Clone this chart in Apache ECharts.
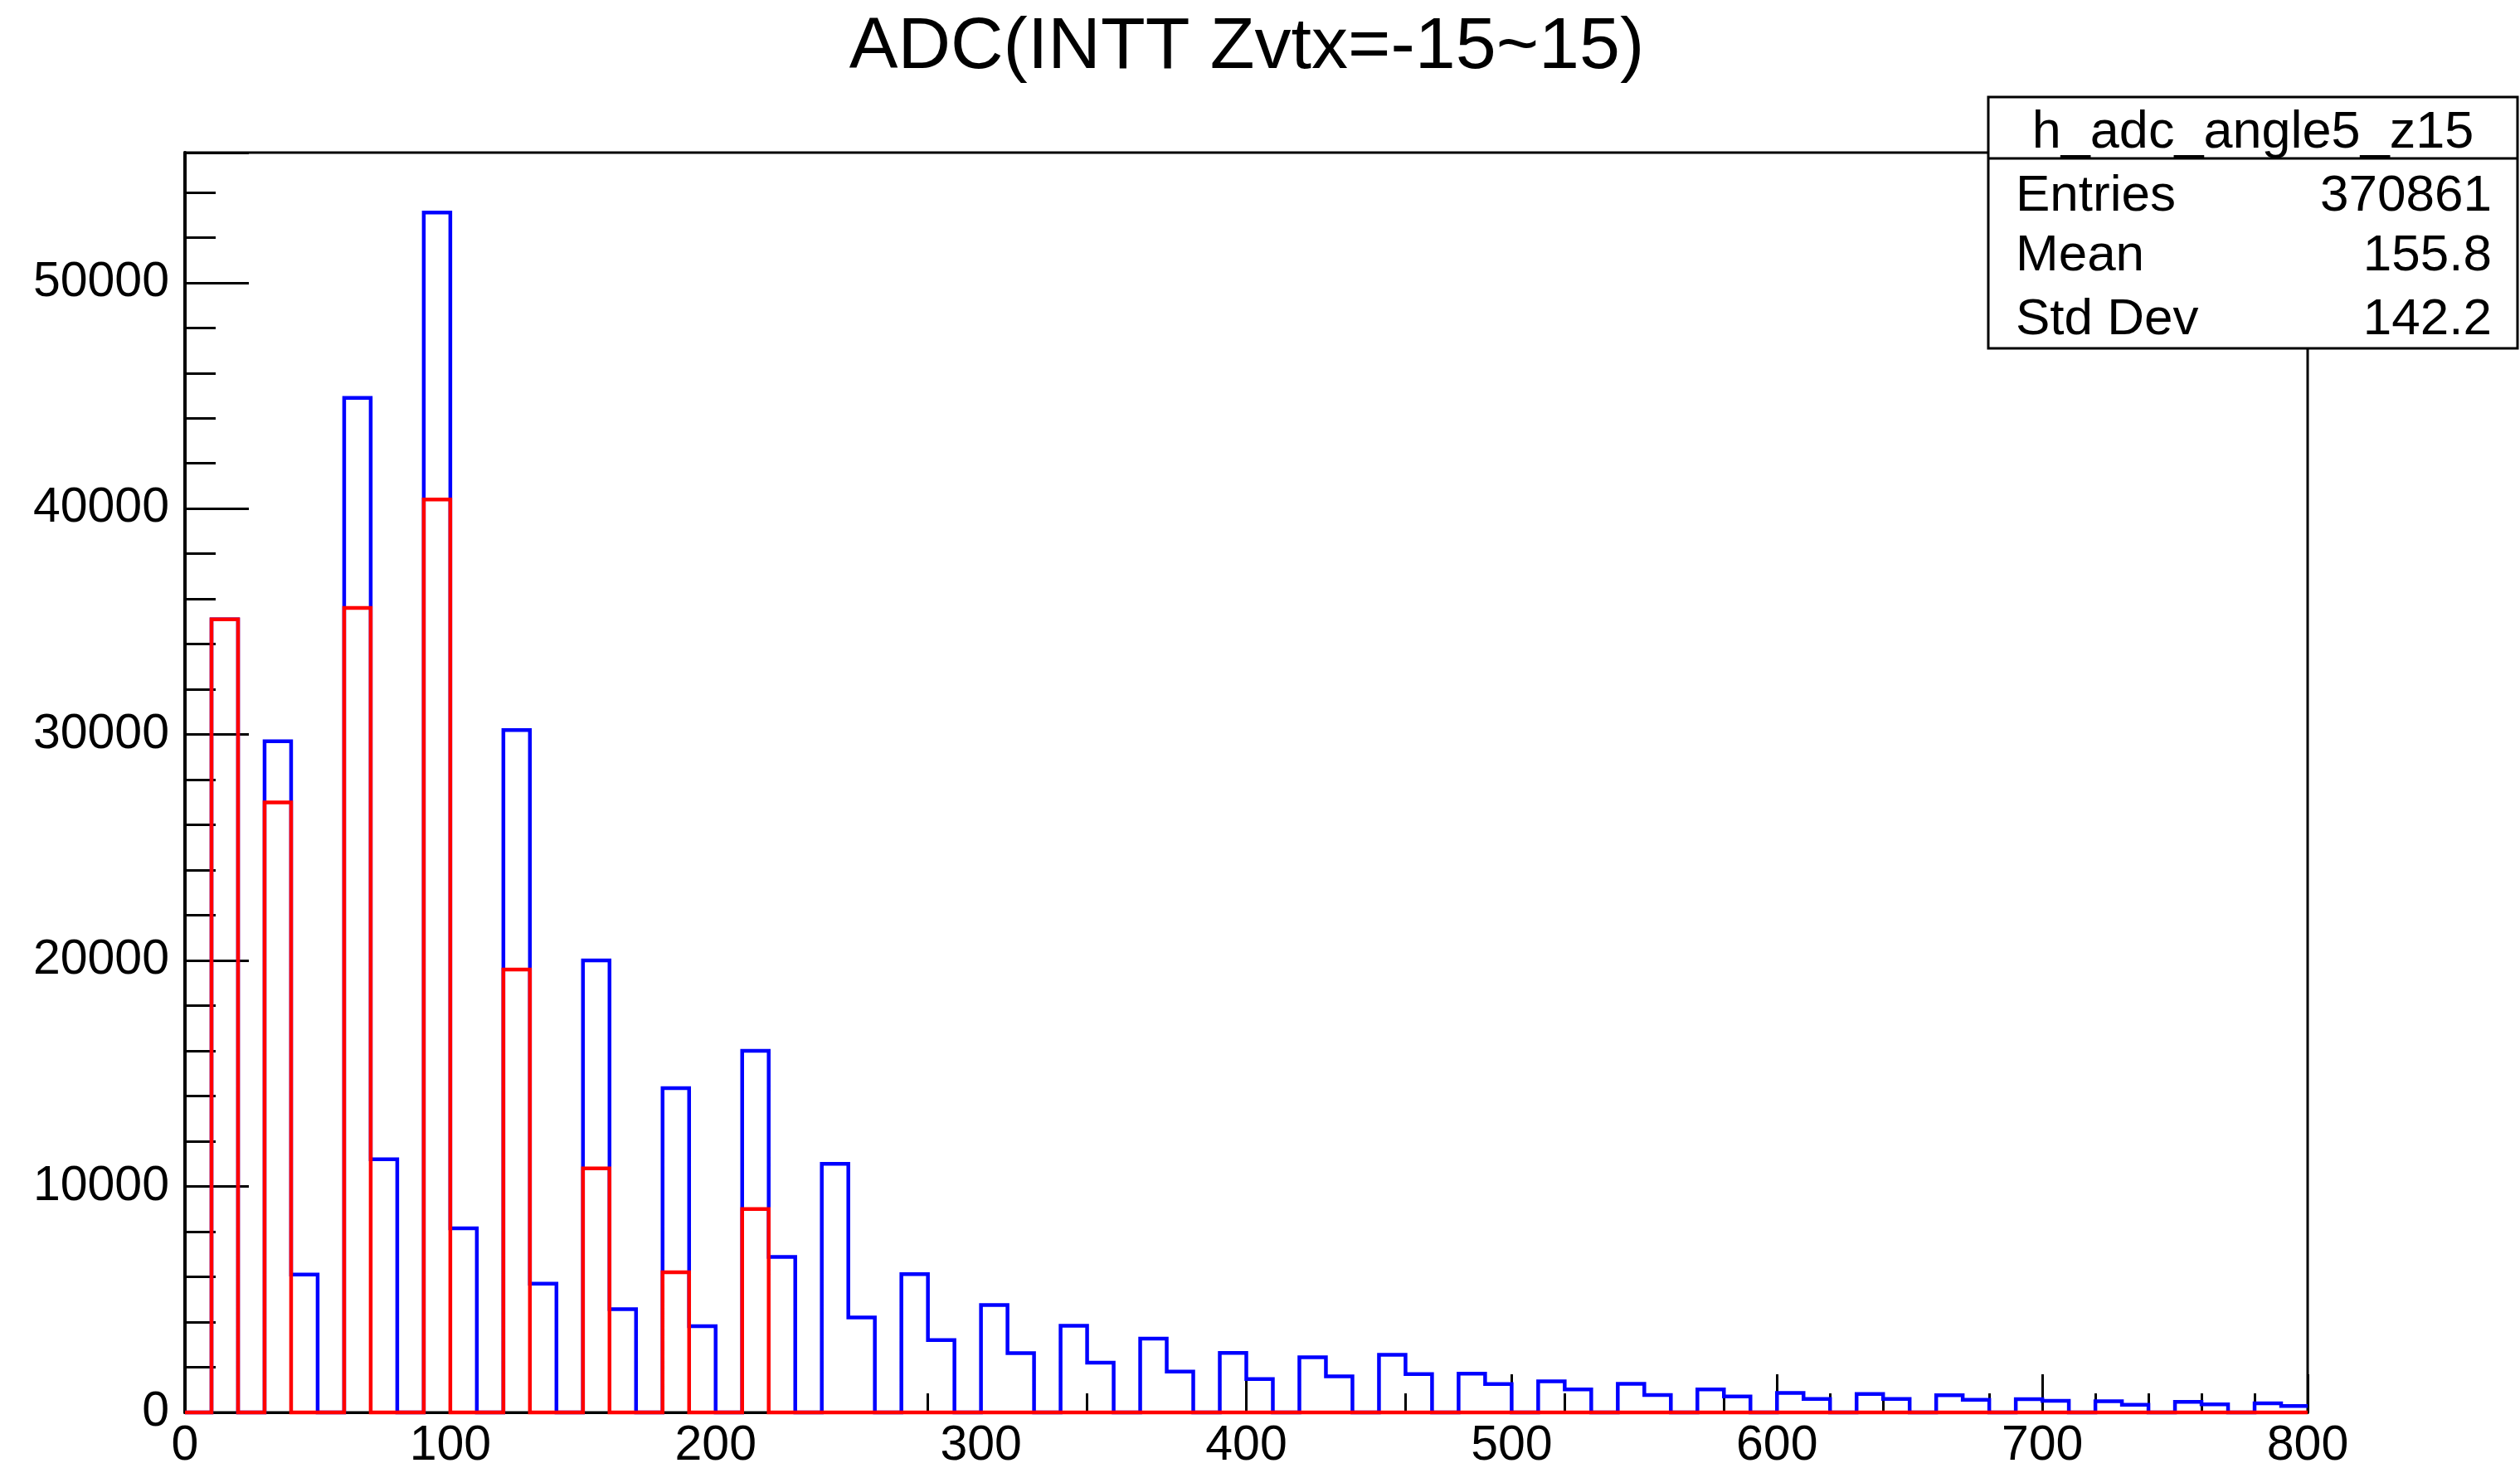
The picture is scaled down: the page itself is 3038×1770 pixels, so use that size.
<!DOCTYPE html>
<html><head><meta charset="utf-8">
<script src="https://cdn.jsdelivr.net/npm/echarts@6/dist/echarts.min.js"></script>
<style>html,body{margin:0;padding:0;background:#fff}#c{width:3038px;height:1770px}</style>
</head><body><div id="c"></div>
<script>
// ---- data ----
const chartTitle = 'ADC(INTT Zvtx=-15~15)';
const histName = 'h_adc_angle5_z15';
const statLabels = ['Entries', 'Mean', 'Std Dev'];
const statValues = ['370861', '155.8', '142.2'];
const X_MIN = 0, X_MAX = 800, BIN_WIDTH = 10;
// bin contents, one per 10-wide bin from 0 to 800
const blueCounts = [
  0, 35100, 0, 29700, 6100, 0, 44900, 11200, 0, 53100,
  8150, 0, 30200, 5700, 0, 20000, 4570, 0, 14350, 3820,
  0, 16000, 6880, 0, 11000, 4200, 0, 6120, 3200, 0,
  4750, 2620, 0, 3840, 2200, 0, 3270, 1810, 0, 2630,
  1480, 0, 2440, 1600, 0, 2550, 1700, 0, 1715, 1260,
  0, 1380, 1020, 0, 1270, 770, 0, 1020, 710, 0,
  860, 600, 0, 820, 600, 0, 760, 560, 0, 590,
  510, 0, 500, 340, 0, 470, 355, 0, 400, 280
];
const redCounts = [
  0, 35100, 0, 27000, 0, 0, 35600, 0, 0, 40400,
  0, 0, 19600, 0, 0, 10800, 0, 0, 6200, 0,
  0, 9000, 0, 0, 0, 0, 0, 0, 0, 0,
  0, 0, 0, 0, 0, 0, 0, 0, 0, 0,
  0, 0, 0, 0, 0, 0, 0, 0, 0, 0,
  0, 0, 0, 0, 0, 0, 0, 0, 0, 0,
  0, 0, 0, 0, 0, 0, 0, 0, 0, 0,
  0, 0, 0, 0, 0, 0, 0, 0, 0, 0
];

const FONT = '"Liberation Sans", Arial, Helvetica, sans-serif';
function stepData(counts) {
  const d = counts.map((v, i) => [X_MIN + i * BIN_WIDTH, v]);
  d.push([X_MAX, counts[counts.length - 1]]);
  return d;
}
const yMax = Math.max(...blueCounts) * 1.05;

const chart = echarts.init(document.getElementById('c'), null, {renderer: 'canvas'});
const tickStyle = {color: '#000', width: 3};
const rowY = [237, 309, 386];
const option = {
  animation: false,
  backgroundColor: '#fff',
  grid: {left: 223, right: 256, top: 184, bottom: 67, show: true, borderColor: '#000', borderWidth: 3,
         backgroundColor: 'transparent', containLabel: false, outerBoundsMode: 'none'},
  xAxis: {
    type: 'value', min: X_MIN, max: X_MAX, interval: 100,
    axisLine: {show: true, onZero: false, lineStyle: {color: '#000', width: 3}},
    axisTick: {show: true, inside: true, length: 46, lineStyle: tickStyle},
    minorTick: {show: true, splitNumber: 5, length: 23, lineStyle: tickStyle},
    splitLine: {show: false},
    axisLabel: {color: '#000', fontSize: 59, fontFamily: FONT, margin: 11,
                formatter: v => String(v)}
  },
  yAxis: {
    type: 'value', min: 0, max: yMax, interval: 10000,
    axisLine: {show: true, lineStyle: {color: '#000', width: 4}},
    axisTick: {show: true, inside: true, length: 77, lineStyle: tickStyle},
    minorTick: {show: true, splitNumber: 5, length: 37, lineStyle: tickStyle},
    splitLine: {show: false},
    axisLabel: {color: '#000', fontSize: 59, fontFamily: FONT, margin: 19, showMaxLabel: false,
                padding: [8, 0, 0, 0], formatter: v => String(v)}
  },
  series: [
    {type: 'line', step: 'end', data: stepData(blueCounts), symbol: 'none', showSymbol: false,
     lineStyle: {color: '#0000ff', width: 4.5, join: 'miter'}, z: 2, clip: false},
    {type: 'line', step: 'end', data: stepData(redCounts), symbol: 'none', showSymbol: false,
     lineStyle: {color: '#ff0000', width: 4.5, join: 'miter'}, z: 3, clip: false}
  ],
  graphic: [
    {type: 'text', x: 1503, y: 58, z: 100,
     style: {text: chartTitle, fill: '#000', fontSize: 88, fontFamily: FONT, align: 'center', verticalAlign: 'middle'}},
    {type: 'rect', z: 100, shape: {x: 2397, y: 117, width: 638, height: 303},
     style: {fill: '#fff', stroke: '#000', lineWidth: 3}},
    {type: 'line', z: 101, shape: {x1: 2397, y1: 191, x2: 3035, y2: 191},
     style: {stroke: '#000', lineWidth: 3}},
    {type: 'text', x: 2716, y: 161, z: 102,
     style: {text: histName, fill: '#000', fontSize: 63, fontFamily: FONT, align: 'center', verticalAlign: 'middle'}},
    ...statLabels.map((t, i) => ({type: 'text', x: 2430, y: rowY[i], z: 102,
      style: {text: t, fill: '#000', fontSize: 62, fontFamily: FONT, align: 'left', verticalAlign: 'middle'}})),
    ...statValues.map((t, i) => ({type: 'text', x: 3004, y: rowY[i], z: 102,
      style: {text: t, fill: '#000', fontSize: 62, fontFamily: FONT, align: 'right', verticalAlign: 'middle'}}))
  ]
};
chart.setOption(option);
</script>
</body></html>
